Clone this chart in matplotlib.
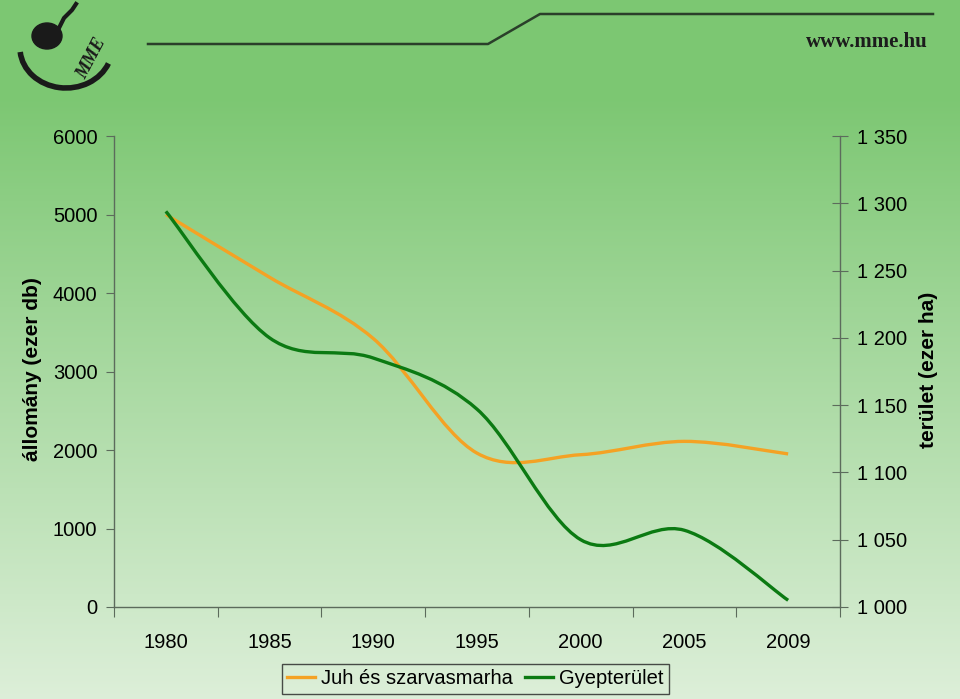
import numpy as np
import matplotlib.pyplot as plt
from matplotlib.path import Path
from matplotlib.patches import PathPatch, Arc, Ellipse
from matplotlib.lines import Line2D
from matplotlib.ticker import FuncFormatter

plt.rcParams['font.family'] = ['Liberation Sans', 'DejaVu Sans']

# adatok
years = ['1980', '1985', '1990', '1995', '2000', '2005', '2009']
juh = [5000, 4200, 3420, 1960, 1940, 2110, 1950]     # állomány (ezer db)
gyep = [1294, 1200, 1185, 1147, 1050, 1057, 1005]    # terület (ezer ha)

left_ticks = [0, 1000, 2000, 3000, 4000, 5000, 6000]
right_ticks = [1000, 1050, 1100, 1150, 1200, 1250, 1300, 1350]

c_juh = '#f4a224'
c_gyep = '#0b7a12'
c_axis = '#5c6b5c'


def smooth_path(xs, ys):
    # Excel-szeru simitott vonal (Bezier szakaszok)
    pts = np.column_stack([xs, ys]).astype(float)
    ext = np.vstack([pts[0], pts, pts[-1]])
    verts = [pts[0]]
    codes = [Path.MOVETO]
    for i in range(len(pts) - 1):
        p0, p1, p2, p3 = ext[i], ext[i + 1], ext[i + 2], ext[i + 3]
        verts += [p1 + (p2 - p0) / 6, p2 - (p3 - p1) / 6, p2]
        codes += [Path.CURVE4] * 3
    return Path(verts, codes)


fig = plt.figure(figsize=(9.6, 6.99), dpi=100)

#%% hatter + fejlec
bg = fig.add_axes([0, 0, 1, 1], zorder=-10)
H = 699
top = np.array([124, 199, 114]) / 255
bot = np.array([221, 239, 217]) / 255
t = np.clip((np.arange(H) - 95) / (H - 95), 0, 1)[:, None]
grad = (top * (1 - t) + bot * t)[:, None, :]
bg.imshow(grad, aspect='auto', extent=[0, 960, H, 0])
bg.set_xlim(0, 960)
bg.set_ylim(H, 0)
bg.axis('off')

bg.plot([148, 488, 540, 933], [44, 44, 14, 14], color='#2a3f2a', lw=1.8)
bg.text(928, 47, 'www.mme.hu', ha='right', va='baseline', fontsize=15,
        fontweight='bold', family='Liberation Serif', color='#1c1c1c')

# logo (egyszerusitve)
bg.add_patch(Arc((66, 48), 92, 80, theta1=20, theta2=175, lw=4, color='#1a1a1a'))
bg.add_patch(Ellipse((47, 36), 30, 26, color='#1a1a1a'))
bg.plot([58, 64, 72, 76], [30, 18, 10, 4], color='#1a1a1a', lw=3)
bg.text(92, 58, 'MME', rotation=62, fontsize=13, fontweight='bold', style='italic',
        family='Liberation Serif', color='#1a1a1a', ha='center', va='center')

#%% diagram
ax = fig.add_axes([114 / 960, 1 - 607 / 699, 726 / 960, 471 / 699])
ax.patch.set_visible(False)
ax2 = ax.twinx()

x = np.arange(len(years))
ax.add_patch(PathPatch(smooth_path(x, juh), fill=False, ec=c_juh, lw=2.4,
                       capstyle='butt', joinstyle='round'))
ax2.add_patch(PathPatch(smooth_path(x, gyep), fill=False, ec=c_gyep, lw=2.4,
                        capstyle='butt', joinstyle='round'))

ax.set_xlim(-0.5, len(years) - 0.5)
ax.set_ylim(0, 6000)
ax2.set_ylim(1000, 1350)

ax.set_xticks(np.arange(-0.5, len(years)), labels=[])
ax.set_xticks(x, labels=years, minor=True)
ax.tick_params(axis='x', which='major', direction='out', length=7, color=c_axis)
ax.tick_params(axis='x', which='minor', length=0, pad=19, labelsize=14.5)

ax.set_yticks(left_ticks)
ax.tick_params(axis='y', direction='out', length=6, color=c_axis, pad=6, labelsize=14.5)

ax2.set_yticks(right_ticks)
ax2.yaxis.set_major_formatter(FuncFormatter(lambda v, p: f'{int(v):,}'.replace(',', ' ')))
ax2.tick_params(axis='y', direction='inout', length=12, color=c_axis, pad=6, labelsize=14.5)

for s in ['top', 'right']:
    ax.spines[s].set_visible(False)
for s in ['top', 'left', 'bottom']:
    ax2.spines[s].set_visible(False)
for a in (ax, ax2):
    for s in a.spines.values():
        s.set_color(c_axis)
        s.set_linewidth(1)

fig.text(33 / 960, 1 - 369 / 699, 'állomány (ezer db)', rotation=90, ha='center',
         va='center', fontsize=15, fontweight='bold')
fig.text(928 / 960, 1 - 370 / 699, 'terület (ezer ha)', rotation=90, ha='center',
         va='center', fontsize=15, fontweight='bold')

handles = [Line2D([], [], color=c_juh, lw=2.4), Line2D([], [], color=c_gyep, lw=2.4)]
leg = fig.legend(handles, ['Juh és szarvasmarha', 'Gyepterület'], ncol=2,
                 loc='center', bbox_to_anchor=(475 / 960, 1 - 679 / 699),
                 fontsize=14.5, frameon=True, fancybox=False, handlelength=1.4,
                 handletextpad=0.3, columnspacing=0.6, borderpad=0.25,
                 borderaxespad=0)
leg.get_frame().set_facecolor('none')
leg.get_frame().set_edgecolor('#222222')
leg.get_frame().set_linewidth(1)

fig.savefig('out.png', dpi=100)
